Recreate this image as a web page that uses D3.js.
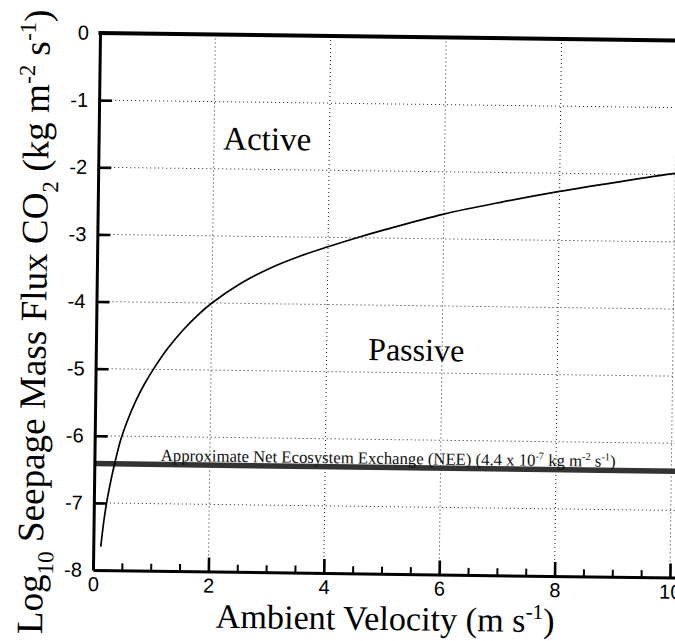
<!DOCTYPE html>
<html><head><meta charset="utf-8">
<script src="https://cdn.jsdelivr.net/npm/d3@7"></script>
<style>html,body{margin:0;padding:0;background:#fff;overflow:hidden;} svg{display:block;}</style>
</head><body>
<script>
// ---- data ----
const xMajorTicks = [0, 2, 4, 6, 8, 10];
const xMinorTicks = [0.5, 1, 1.5, 2.5, 3, 3.5, 4.5, 5, 5.5, 6.5, 7, 7.5, 8.5, 9, 9.5, 10.5, 11, 11.5];
const yTicks = [0, -1, -2, -3, -4, -5, -6, -7, -8];
const xGrid = [2, 4, 6, 8, 10];
const yGrid = [-1, -2, -3, -4, -5, -6, -7];
const velocity = [0.13, 0.18, 0.23, 0.30, 0.36, 0.45, 0.55, 0.70, 0.85, 1.0, 1.25, 1.5, 1.75, 2.0, 2.5, 3.0, 3.5, 4.0, 4.5, 5.0, 6.0, 7.0, 8.0, 9.0, 10.0, 10.2];
const logFlux  = [-7.65, -7.25, -6.95, -6.62, -6.38, -6.06, -5.8, -5.48, -5.22, -5.0, -4.68, -4.415, -4.19, -4.0, -3.70, -3.47, -3.29, -3.14, -3.0, -2.87, -2.63, -2.44, -2.27, -2.12, -1.98, -1.96];
const neeLevel = -6.415;
const regionLabels = [{text: "Active", x: 2.16, y: -1.71, size: 33}, {text: "Passive", x: 4.72, y: -4.82, size: 32}];

const serif = "'Liberation Serif','Times New Roman',Times,serif";
const sans = "'Liberation Sans',Arial,Helvetica,sans-serif";

const svg = d3.select("body").append("svg").attr("width", 675).attr("height", 641);
svg.append("rect").attr("width", 675).attr("height", 641).attr("fill", "#fff");

const tilt = 0.75;
const g = svg.append("g").attr("transform", `translate(100,33) rotate(${tilt})`);
const x = d3.scaleLinear().domain([0, 12]).range([0, 692.4]);
const y = d3.scaleLinear().domain([0, -8]).range([0, 537]);

// grid
g.append("g").selectAll("line").data(xGrid).join("line")
  .attr("x1", d => x(d)).attr("x2", d => x(d)).attr("y1", y(0)).attr("y2", y(-8))
  .attr("stroke", "#222").attr("stroke-width", 1).attr("stroke-dasharray", "1,3");
g.append("g").selectAll("line").data(yGrid).join("line")
  .attr("y1", d => y(d)).attr("y2", d => y(d)).attr("x1", x(0)).attr("x2", x(12))
  .attr("stroke", "#222").attr("stroke-width", 1).attr("stroke-dasharray", "1,3");

// NEE band
g.append("line").attr("x1", x(0)).attr("x2", x(12)).attr("y1", y(neeLevel)).attr("y2", y(neeLevel))
  .attr("stroke", "#333").attr("stroke-width", 5.5);

function rich(sel, parts, fs) {
  let pending = 0;
  parts.forEach(p => {
    const t = sel.append("tspan").text(p.t);
    let dy = pending;
    pending = 0;
    if (p.s === "sup") { t.attr("font-size", fs * 0.62); dy += -fs * 0.38; pending = fs * 0.38; }
    else if (p.s === "sub") { t.attr("font-size", fs * 0.62); dy += fs * 0.28; pending = -fs * 0.28; }
    if (dy) t.attr("dy", dy);
  });
}

// NEE label
const nee = g.append("text").attr("font-family", serif).attr("font-size", 17).attr("fill", "#111");
rich(nee, [
  {t: "Approximate Net Ecosystem Exchange (NEE) (4.4 x 10"}, {t: "-7", s: "sup"},
  {t: " kg m"}, {t: "-2", s: "sup"}, {t: " s"}, {t: "-1", s: "sup"}, {t: ")"}
], 17);
{
  const w = nee.node().getComputedTextLength();
  const nx = x(1.15), ny = y(neeLevel) - 3.5;
  nee.attr("transform", `translate(${nx},${ny}) scale(${455 / w},1)`);
}

// curve
const pts = velocity.map((v, i) => [v, logFlux[i]]);
g.append("path").datum(pts)
  .attr("d", d3.line().x(d => x(d[0])).y(d => y(d[1])).curve(d3.curveCatmullRom.alpha(0.5)))
  .attr("fill", "none").attr("stroke", "#000").attr("stroke-width", 1.7);

// region labels
g.selectAll("text.region").data(regionLabels).join("text").attr("class", "region")
  .attr("x", d => x(d.x)).attr("y", d => y(d.y)).attr("font-family", serif)
  .attr("font-size", d => d.size).attr("fill", "#000").text(d => d.text);

// axes
const yAxis = g.append("g")
  .call(d3.axisLeft(y).tickValues(yTicks).tickSize(-13).tickSizeOuter(0).tickPadding(11).tickFormat(d => String(d)));
const xAxis = g.append("g").attr("transform", `translate(0,${y(-8)})`)
  .call(d3.axisBottom(x).tickValues(xMajorTicks).tickSize(-14).tickSizeOuter(0).tickPadding(7).tickFormat(d => String(d)));
const xMinor = g.append("g").attr("transform", `translate(0,${y(-8)})`)
  .call(d3.axisBottom(x).tickValues(xMinorTicks).tickSize(-7).tickSizeOuter(0).tickFormat(""));
xMinor.select(".domain").remove();
[yAxis, xAxis].forEach(a => {
  a.select(".domain").attr("stroke", "#000").attr("stroke-width", 3);
  a.selectAll(".tick line").attr("stroke", "#000").attr("stroke-width", 2.6);
  a.selectAll(".tick text").attr("font-family", sans).attr("font-size", 20).attr("fill", "#000");
});
xMinor.selectAll(".tick line").attr("stroke", "#000").attr("stroke-width", 2);
yAxis.selectAll(".tick").filter(d => d === 0 || d === -8).select("line").remove();
xAxis.selectAll(".tick").filter(d => d === 0).select("line").remove();
// top frame
g.append("line").attr("x1", -1.5).attr("x2", x(12)).attr("y1", 0).attr("y2", 0)
  .attr("stroke", "#000").attr("stroke-width", 4);

// titles
const yt = svg.append("text").attr("font-family", serif).attr("font-size", 36).attr("fill", "#000")
  .attr("text-anchor", "middle");
rich(yt, [
  {t: "Log"}, {t: "10", s: "sub"}, {t: " Seepage Mass Flux CO"}, {t: "2", s: "sub"},
  {t: " (kg m"}, {t: "-2", s: "sup"}, {t: " s"}, {t: "-1", s: "sup"}, {t: ")"}
], 36);
{
  const w = yt.node().getComputedTextLength();
  yt.attr("transform", `translate(46,322) rotate(${-90 + tilt}) scale(${625 / w})`);
}
const xt = svg.append("text").attr("font-family", serif).attr("font-size", 32).attr("fill", "#000")
  .attr("text-anchor", "middle");
rich(xt, [{t: "Ambient Velocity (m s"}, {t: "-1", s: "sup"}, {t: ")"}], 32);
{
  const w = xt.node().getComputedTextLength();
  xt.attr("transform", `translate(385,630) rotate(${tilt}) scale(${339 / w})`);
}
</script>
</body></html>
